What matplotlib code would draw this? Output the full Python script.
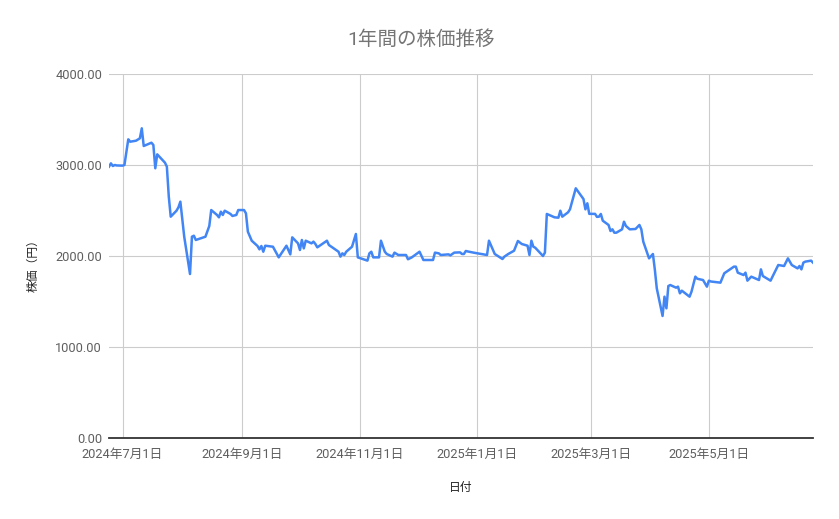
import matplotlib
matplotlib.use("Agg")
import matplotlib.pyplot as plt
import pandas as pd

dates = [
    "2024-06-24", "2024-06-25", "2024-06-26", "2024-06-27", "2024-06-28",
    "2024-07-01", "2024-07-02", "2024-07-04", "2024-07-05", "2024-07-08",
    "2024-07-10", "2024-07-11", "2024-07-12", "2024-07-16", "2024-07-17",
    "2024-07-18", "2024-07-19", "2024-07-23", "2024-07-24", "2024-07-25",
    "2024-07-26", "2024-07-29", "2024-07-30", "2024-07-31", "2024-08-02",
    "2024-08-05", "2024-08-06", "2024-08-07", "2024-08-08", "2024-08-13",
    "2024-08-15", "2024-08-16", "2024-08-19", "2024-08-20", "2024-08-21",
    "2024-08-22", "2024-08-23", "2024-08-26", "2024-08-27", "2024-08-29",
    "2024-08-30", "2024-09-02", "2024-09-03", "2024-09-04", "2024-09-06",
    "2024-09-09", "2024-09-10", "2024-09-11", "2024-09-12", "2024-09-13",
    "2024-09-17", "2024-09-20", "2024-09-24", "2024-09-26", "2024-09-27",
    "2024-09-30", "2024-10-01", "2024-10-02", "2024-10-03", "2024-10-04",
    "2024-10-07", "2024-10-08", "2024-10-09", "2024-10-10", "2024-10-15",
    "2024-10-16", "2024-10-21", "2024-10-22", "2024-10-23", "2024-10-24",
    "2024-10-25", "2024-10-28", "2024-10-30", "2024-10-31", "2024-11-05",
    "2024-11-06", "2024-11-07", "2024-11-08", "2024-11-11", "2024-11-12",
    "2024-11-14", "2024-11-15", "2024-11-18", "2024-11-19", "2024-11-21",
    "2024-11-25", "2024-11-26", "2024-11-27", "2024-11-28", "2024-12-02",
    "2024-12-04", "2024-12-09", "2024-12-10", "2024-12-12", "2024-12-13",
    "2024-12-17", "2024-12-18", "2024-12-20", "2024-12-23", "2024-12-24",
    "2024-12-25", "2024-12-26", "2024-12-27", "2024-12-30", "2025-01-06",
    "2025-01-07", "2025-01-10", "2025-01-14", "2025-01-15", "2025-01-17",
    "2025-01-20", "2025-01-22", "2025-01-24", "2025-01-27", "2025-01-28",
    "2025-01-29", "2025-01-30", "2025-01-31", "2025-02-04", "2025-02-05",
    "2025-02-06", "2025-02-10", "2025-02-12", "2025-02-13", "2025-02-14",
    "2025-02-17", "2025-02-18", "2025-02-21", "2025-02-25", "2025-02-26",
    "2025-02-27", "2025-02-28", "2025-03-03", "2025-03-04", "2025-03-05",
    "2025-03-06", "2025-03-07", "2025-03-10", "2025-03-11", "2025-03-12",
    "2025-03-13", "2025-03-14", "2025-03-17", "2025-03-18", "2025-03-19",
    "2025-03-21", "2025-03-24", "2025-03-26", "2025-03-27", "2025-03-28",
    "2025-03-31", "2025-04-02", "2025-04-03", "2025-04-04", "2025-04-07",
    "2025-04-08", "2025-04-09", "2025-04-10", "2025-04-11", "2025-04-14",
    "2025-04-15", "2025-04-16", "2025-04-17", "2025-04-21", "2025-04-22",
    "2025-04-24", "2025-04-25", "2025-04-28", "2025-04-30", "2025-05-01",
    "2025-05-02", "2025-05-07", "2025-05-09", "2025-05-12", "2025-05-14",
    "2025-05-15", "2025-05-16", "2025-05-19", "2025-05-20", "2025-05-21",
    "2025-05-23", "2025-05-27", "2025-05-28", "2025-05-29", "2025-06-02",
    "2025-06-03", "2025-06-06", "2025-06-09", "2025-06-11", "2025-06-13",
    "2025-06-16", "2025-06-17", "2025-06-18", "2025-06-19", "2025-06-20",
    "2025-06-23", "2025-06-24",
]

prices = [
    2982, 3018, 2989, 3000, 2995,
    2993, 3000, 3282, 3256, 3267,
    3293, 3403, 3209, 3245, 3220,
    2964, 3117, 3026, 2982, 2652,
    2432, 2498, 2535, 2597, 2212,
    1802, 2212, 2223, 2176, 2212,
    2330, 2505, 2451, 2425, 2487,
    2451, 2498, 2462, 2440, 2451,
    2505, 2505, 2469, 2267, 2168,
    2110, 2073, 2110, 2047, 2113,
    2102, 1985, 2113, 2018, 2205,
    2139, 2066, 2176, 2084, 2168,
    2139, 2158, 2132, 2095, 2168,
    2121, 2047, 1993, 2029, 2011,
    2047, 2102, 2242, 1985, 1949,
    2029, 2047, 1985, 1985, 2168,
    2047, 2022, 1993, 2037, 2011,
    2011, 1964, 1974, 1985, 2047,
    1956, 1956, 2037, 2029, 2011,
    2018, 2007, 2037, 2040, 2022,
    2022, 2055, 2050, 2037, 2011,
    2168, 2022, 1967, 1993, 2022,
    2058, 2165, 2132, 2113, 2011,
    2168, 2102, 2091, 2000, 2037,
    2462, 2425, 2421, 2498, 2432,
    2480, 2513, 2744, 2626, 2513,
    2579, 2463, 2463, 2430, 2432,
    2462, 2388, 2341, 2275, 2293,
    2256, 2256, 2293, 2377, 2330,
    2293, 2297, 2341, 2293, 2158,
    1974, 2022, 1850, 1645, 1341,
    1553, 1425, 1670, 1681, 1652,
    1663, 1590, 1619, 1553, 1608,
    1773, 1750, 1736, 1663, 1729,
    1720, 1707, 1810, 1853, 1883,
    1883, 1817, 1791, 1817, 1729,
    1773, 1736, 1853, 1780, 1729,
    1773, 1901, 1890, 1974, 1901,
    1864, 1890, 1853, 1927, 1938,
    1949, 1927,
]

x_ticks = ["2024-07-01", "2024-09-01", "2024-11-01", "2025-01-01", "2025-03-01", "2025-05-01"]
x_tick_labels = ["2024年7月1日", "2024年9月1日", "2024年11月1日", "2025年1月1日", "2025年3月1日", "2025年5月1日"]
y_ticks = [0, 1000, 2000, 3000, 4000]

title = "1年間の株価推移"
x_title = "日付"
y_title = "株価（円）"

FONT = ["Roboto", "Noto Sans CJK JP", "DejaVu Sans"]
plt.rcParams["font.family"] = FONT

df = pd.DataFrame({"date": pd.to_datetime(dates), "price": prices})

fig = plt.figure(figsize=(8.39, 5.19), dpi=100)
ax = fig.add_axes([109 / 839, 1 - 438 / 519, (813 - 109) / 839, (438 - 74) / 519])

ax.plot(df["date"], df["price"], color="#4285F4", linewidth=1.8, solid_joinstyle="round")

ax.set_xlim(df["date"].iloc[0], df["date"].iloc[-1])
ax.set_ylim(0, 4000)

ax.set_xticks(pd.to_datetime(x_ticks))
ax.set_xticklabels(x_tick_labels)
ax.set_yticks(y_ticks)
ax.set_yticklabels([f"{v:.2f}" for v in y_ticks])

ax.grid(True, color="#cccccc", linewidth=0.8)
ax.set_axisbelow(True)
for s in ["top", "right", "left"]:
    ax.spines[s].set_visible(False)
ax.spines["bottom"].set_color("#333333")
ax.spines["bottom"].set_linewidth(1.3)
ax.spines["bottom"].set_zorder(3)

ax.tick_params(axis="both", length=0, labelsize=9.2, labelcolor="#5f5f5f")
ax.tick_params(axis="y", pad=5)
ax.tick_params(axis="x", pad=7)

fig.text(421 / 839, 1 - 40 / 519, title, ha="center", va="center",
         fontsize=14, color="#757575")
fig.text(461 / 839, 1 - 487 / 519, x_title, ha="center", va="center",
         fontsize=8.5, color="#222222")
fig.text(33 / 839, 1 - 263 / 519, y_title, ha="center", va="center",
         rotation=90, fontsize=8.5, color="#222222")

fig.savefig("out.png", dpi=100, facecolor="white")
